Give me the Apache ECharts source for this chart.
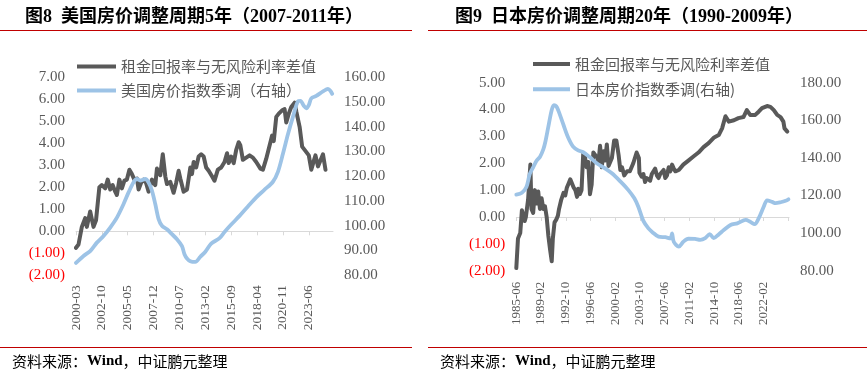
<!DOCTYPE html>
<html><head><meta charset="utf-8">
<script src="https://cdn.jsdelivr.net/npm/echarts@6.0.0/dist/echarts.min.js"></script>
<style>html,body{margin:0;padding:0;background:#fff}#c{width:867px;height:374px}</style>
</head><body><div id="c"></div>
<script>
// ---------- US chart data ----------
const usStart = '2000-03';
const usTickLabels = ['2000-03','2002-10','2005-05','2007-12','2010-07','2013-02','2015-09','2018-04','2020-11','2023-06'];
const usSpreadDates = ['2000-03','2000-06','2000-10','2001-02','2001-04','2001-08','2001-12','2002-03','2002-07','2002-10','2003-02','2003-05','2003-08','2003-11','2004-02','2004-04','2004-07','2004-10','2005-01','2005-04','2005-07','2005-10','2006-01','2006-04','2006-06','2006-09','2006-12','2007-03','2007-06','2007-10','2008-02','2008-04','2008-08','2008-11','2009-02','2009-04','2009-08','2009-12','2010-03','2010-06','2010-08','2010-12','2011-04','2011-08','2011-10','2011-12','2012-03','2012-06','2012-09','2012-12','2013-03','2013-06','2013-10','2014-01','2014-05','2014-09','2015-01','2015-04','2015-06','2015-09','2015-12','2016-03','2016-06','2016-08','2016-11','2017-03','2017-07','2017-11','2018-03','2018-08','2018-11','2019-03','2019-07','2019-09','2019-10','2019-12','2020-03','2020-06','2020-10','2021-01','2021-03','2021-06','2021-09','2022-01','2022-03','2022-07','2022-10','2023-01','2023-03','2023-06','2023-09','2023-12','2024-02','2024-05','2024-07','2024-11','2025-02'];
const usSpreadValues = [-0.75,-0.6,0.2,0.6,0.2,0.9,0.2,0.5,2.0,2.1,1.95,2.35,1.9,2.1,1.8,1.65,2.35,1.95,2.3,2.35,2.8,2.6,2.35,2.4,1.9,2.2,2.35,2.2,1.8,2.35,2.1,2.85,2.55,3.5,2.5,2.15,2.25,1.75,2.2,2.75,2.4,1.8,1.9,2.9,2.6,3.15,2.9,3.4,3.5,3.4,2.9,2.75,2.5,2.3,2.8,2.9,3.15,3.55,3.1,3.4,3.1,3.7,4.05,3.9,3.25,3.35,3.45,3.35,3.15,2.85,2.8,3.3,3.9,4.2,4.35,4.1,5.2,5.35,5.5,5.55,4.95,5.35,5.65,5.85,5.45,4.75,3.85,3.7,3.75,3.45,2.8,3.2,3.45,2.95,3.0,3.5,2.8];
const usHpiDates = ['2000-03','2000-12','2001-08','2002-04','2002-12','2003-08','2004-04','2004-12','2005-06','2005-12','2006-04','2006-08','2007-02','2007-06','2007-10','2008-02','2008-06','2008-10','2009-04','2009-10','2010-04','2010-10','2011-01','2011-04','2011-08','2012-02','2012-08','2013-02','2013-09','2014-07','2015-01','2015-09','2016-07','2017-05','2018-03','2019-01','2019-11','2020-05','2020-11','2021-05','2021-11','2022-05','2022-08','2022-12','2023-03','2023-06','2023-09','2024-03','2024-11','2025-05','2025-08','2025-10'];
const usHpiValues = [85.0,87.8,89.8,93.2,95.9,99.3,103.3,108.8,113.5,117.6,118.9,118.3,118.9,117.5,114.2,108.8,102.7,100.0,98.6,96.6,94.6,91.8,88.5,86.8,85.7,85.4,87.5,89.5,92.8,95.0,97.5,100.5,104.0,107.8,111.5,114.6,117.8,121.8,129.1,137.0,144.0,150.3,150.5,148.5,147.5,148.8,151.5,152.5,154.3,155.3,154.5,153.3];

// ---------- Japan chart data ----------
const jpStart = '1985-06';
const jpTickLabels = ['1985-06','1989-02','1992-10','1996-06','2000-02','2003-10','2007-06','2011-02','2014-10','2018-06','2022-02'];
const jpSpreadDates = ['1985-06','1985-09','1986-01','1986-04','1986-09','1986-11','1987-03','1987-07','1987-09','1987-12','1988-03','1988-07','1988-09','1988-12','1989-03','1989-06','1989-09','1989-12','1990-03','1990-06','1990-09','1990-11','1991-02','1991-05','1991-08','1991-10','1992-02','1992-06','1992-09','1992-12','1993-03','1993-06','1993-09','1993-12','1994-03','1994-06','1994-08','1994-11','1995-02','1995-05','1995-08','1995-11','1996-02','1996-05','1996-08','1996-11','1997-02','1997-06','1997-08','1997-11','1998-02','1998-05','1998-08','1998-11','1999-02','1999-05','1999-08','1999-12','2000-04','2000-08','2000-11','2001-02','2001-06','2001-11','2002-04','2002-10','2003-04','2003-08','2003-09','2004-01','2004-04','2004-07','2004-10','2005-01','2005-04','2005-07','2005-10','2006-01','2006-04','2006-07','2006-10','2007-01','2007-04','2007-07','2007-10','2008-01','2008-04','2008-07','2008-10','2009-01','2009-07','2010-03','2010-12','2011-09','2012-06','2013-03','2013-12','2014-09','2015-06','2015-12','2016-06','2016-12','2017-09','2018-05','2019-02','2019-08','2020-02','2020-11','2021-05','2021-11','2022-08','2023-02','2023-08','2024-02','2024-08','2025-01','2025-03','2025-08'];
const jpSpreadValues = [-1.9,-0.8,-0.6,0.25,-0.15,0.0,0.65,1.95,0.3,0.15,1.0,0.5,0.95,0.3,0.7,0.3,0.4,0.0,-0.7,-1.2,-1.65,-0.8,-0.2,-0.1,0.05,0.3,0.65,0.9,0.8,1.1,1.25,1.4,1.45,1.1,1.0,0.75,1.05,0.85,1.0,2.35,2.25,1.85,2.05,0.85,1.2,2.4,2.4,2.2,2.0,2.65,1.85,2.45,2.1,2.7,1.9,2.05,2.2,2.85,2.85,2.3,1.75,1.85,1.55,1.7,1.7,2.0,2.4,2.2,1.65,1.5,1.6,1.3,1.45,1.5,1.35,1.6,1.7,1.8,1.55,1.45,1.6,1.65,1.75,1.45,1.55,1.85,1.7,1.95,1.8,1.7,1.75,1.95,2.1,2.25,2.4,2.6,2.75,2.95,3.05,3.3,3.75,3.55,3.6,3.68,3.72,3.98,3.8,3.8,3.92,4.05,4.13,4.1,3.98,3.8,3.72,3.55,3.3,3.18];
const jpHpiDates = ['1985-06','1986-04','1986-12','1987-06','1987-12','1988-06','1988-12','1989-06','1989-10','1990-03','1990-09','1991-01','1991-05','1991-09','1992-06','1993-02','1993-11','1994-08','1995-05','1996-05','1997-05','1998-05','1999-08','2000-11','2002-01','2002-12','2003-07','2004-04','2005-01','2005-08','2006-07','2007-07','2008-04','2008-07','2008-10','2009-07','2010-03','2010-12','2011-12','2012-09','2013-06','2014-02','2014-09','2015-06','2016-03','2017-03','2018-03','2019-06','2020-02','2020-10','2021-05','2022-02','2022-08','2023-05','2023-11','2024-08','2025-05','2025-10'];
const jpHpiValues = [120.5,121.5,124.5,131.5,135.0,138.5,140.5,144.5,149.0,156.6,165.5,168.0,167.5,165.0,157.5,151.0,146.0,144.0,143.0,140.3,137.2,135.0,131.8,127.5,123.0,118.5,114.0,106.5,102.5,100.5,98.1,97.8,97.2,99.8,95.4,92.8,95.4,97.0,96.9,96.4,97.3,99.5,97.3,99.3,101.6,104.3,105.2,107.0,106.0,104.8,107.8,114.0,117.4,116.6,115.9,116.4,117.2,118.0];

const spreadName = '租金回报率与无风险利率差值';
const usHpiName = '美国房价指数季调（右轴）';
const jpHpiName = '日本房价指数季调(右轴)';

// ---------- helpers ----------
function monthIdx(d, start) {
  const a = d.split('-').map(Number), b = start.split('-').map(Number);
  return (a[0] - b[0]) * 12 + (a[1] - b[1]);
}
function pairs(dates, vals, start) { return dates.map((d, i) => [monthIdx(d, start), vals[i]]); }
const usTickPos = usTickLabels.map(d => monthIdx(d, usStart));
const jpTickPos = jpTickLabels.map(d => monthIdx(d, jpStart));
const jpTickMarks = jpTickPos.concat([484]);
const usLabelMap = {}; usTickLabels.forEach((d, i) => usLabelMap[usTickPos[i]] = d);
const jpLabelMap = {}; jpTickLabels.forEach((d, i) => jpLabelMap[jpTickPos[i]] = d);

const SERIF = "'Liberation Serif','Times New Roman',serif";
const CJK = "'Noto Sans CJK SC','Liberation Sans',sans-serif";
const TITLE = "'Liberation Serif','Noto Sans CJK SC',serif";
const GRAY = '#595959', BLUE = '#9DC3E6', AXIS = '#D9D9D9';

function fmtY(v) { return v < 0 ? '{n|(' + Math.abs(v).toFixed(2) + ')}' : v.toFixed(2); }
function yLeft(grid, min, max, interval) {
  return { type: 'value', gridIndex: grid, position: 'left', min: min, max: max, interval: interval,
    axisLine: { show: false }, axisTick: { show: false }, splitLine: { show: false },
    axisLabel: { formatter: fmtY, color: GRAY, fontSize: 15, fontFamily: SERIF, margin: 11,
      rich: { n: { color: '#FF0000', fontSize: 15, fontFamily: SERIF } } } };
}
function yRight(grid, min, max, interval) {
  return { type: 'value', gridIndex: grid, position: 'right', min: min, max: max, interval: interval,
    axisLine: { show: false }, axisTick: { show: false }, splitLine: { show: false },
    axisLabel: { formatter: v => v.toFixed(2), color: GRAY, fontSize: 15, fontFamily: SERIF, margin: 11 } };
}
function xLine(grid, max, interval, ticks) {
  return { type: 'value', gridIndex: grid, position: 'bottom', min: 0, max: max, interval: interval,
    axisLine: { show: true, onZero: true, lineStyle: { color: AXIS, width: 1 } },
    axisTick: { show: true, length: 4, customValues: ticks, lineStyle: { color: AXIS, width: 1 } },
    axisLabel: { show: false }, splitLine: { show: false } };
}
function xLabels(grid, max, interval, pos, map, fs, margin) {
  return { type: 'value', gridIndex: grid, position: 'bottom', min: 0, max: max, interval: interval,
    axisLine: { show: false, onZero: false }, axisTick: { show: false }, splitLine: { show: false },
    axisLabel: { show: true, customValues: pos, formatter: v => map[v] || '', rotate: 90, margin: margin,
      fontSize: fs, color: GRAY, fontFamily: SERIF, hideOverlap: false } };
}
function legend(left, top, gap, width, names) {
  return { show: true, orient: 'vertical', left: left, top: top, padding: 0, itemGap: gap,
    itemWidth: width, itemHeight: 4, icon: 'rect', data: names,
    textStyle: { fontSize: 15, color: GRAY, fontFamily: CJK, lineHeight: 15 } };
}

const chart = echarts.init(document.getElementById('c'), null, { renderer: 'canvas' });
chart.setOption({
  animation: false,
  backgroundColor: '#ffffff',
  grid: [
    { left: 76, top: 77.3, width: 257, height: 198 },
    { left: 516.3, top: 82.7, width: 272.7, height: 188 }
  ],
  xAxis: [
    xLine(0, 308, 31, usTickPos),
    xLabels(0, 308, 31, usTickPos, usLabelMap, 13.5, 10),
    xLine(1, 485, 44, jpTickMarks),
    xLabels(1, 485, 44, jpTickPos, jpLabelMap, 13, 11)
  ],
  yAxis: [
    yLeft(0, -2, 7, 1), yRight(0, 80, 160, 10),
    yLeft(1, -2, 5, 1), yRight(1, 80, 180, 20)
  ],
  legend: [
    legend(77, 59, 9, 39, [spreadName, usHpiName]),
    legend(533, 56.5, 10.3, 37, [spreadName, jpHpiName])
  ],
  series: [
    { type: 'line', name: spreadName, xAxisIndex: 0, yAxisIndex: 0, symbol: 'none',
      data: pairs(usSpreadDates, usSpreadValues, usStart),
      itemStyle: { color: GRAY }, lineStyle: { color: GRAY, width: 4, join: 'round', cap: 'round' } },
    { type: 'line', name: usHpiName, xAxisIndex: 0, yAxisIndex: 1, symbol: 'none', smooth: 0.3,
      data: pairs(usHpiDates, usHpiValues, usStart),
      itemStyle: { color: BLUE }, lineStyle: { color: BLUE, width: 3.8, join: 'round', cap: 'round' } },
    { type: 'line', name: spreadName, xAxisIndex: 2, yAxisIndex: 2, symbol: 'none',
      data: pairs(jpSpreadDates, jpSpreadValues, jpStart),
      itemStyle: { color: GRAY }, lineStyle: { color: GRAY, width: 4, join: 'round', cap: 'round' } },
    { type: 'line', name: jpHpiName, xAxisIndex: 2, yAxisIndex: 3, symbol: 'none', smooth: 0.3,
      data: pairs(jpHpiDates, jpHpiValues, jpStart),
      itemStyle: { color: BLUE }, lineStyle: { color: BLUE, width: 3.8, join: 'round', cap: 'round' } }
  ],
  graphic: [
    { type: 'text', left: 25, top: 8, style: { text: '图8  美国房价调整周期5年（2007-2011年）', fontSize: 18, fontWeight: 'bold', fontFamily: TITLE, fill: '#000' } },
    { type: 'text', left: 455, top: 8, style: { text: '图9  日本房价调整周期20年（1990-2009年）', fontSize: 18, fontWeight: 'bold', fontFamily: TITLE, fill: '#000' } },
    { type: 'line', shape: { x1: 0, y1: 30.5, x2: 412, y2: 30.5 }, style: { stroke: '#C00000', lineWidth: 1 } },
    { type: 'line', shape: { x1: 428, y1: 30.5, x2: 867, y2: 30.5 }, style: { stroke: '#C00000', lineWidth: 1 } },
    { type: 'line', shape: { x1: 0, y1: 347.5, x2: 412, y2: 347.5 }, style: { stroke: '#C00000', lineWidth: 1 } },
    { type: 'line', shape: { x1: 428, y1: 347.5, x2: 867, y2: 347.5 }, style: { stroke: '#C00000', lineWidth: 1 } },
    { type: 'text', left: 12, top: 354, style: { text: '资料来源：{b|Wind}，中证鹏元整理', fontSize: 15, fontFamily: CJK, fill: '#000',
      rich: { b: { fontSize: 15, fontWeight: 'bold', fontFamily: SERIF, fill: '#000' } } } },
    { type: 'text', left: 440, top: 354, style: { text: '资料来源：{b|Wind}，中证鹏元整理', fontSize: 15, fontFamily: CJK, fill: '#000',
      rich: { b: { fontSize: 15, fontWeight: 'bold', fontFamily: SERIF, fill: '#000' } } } }
  ]
});
</script>
</body></html>
